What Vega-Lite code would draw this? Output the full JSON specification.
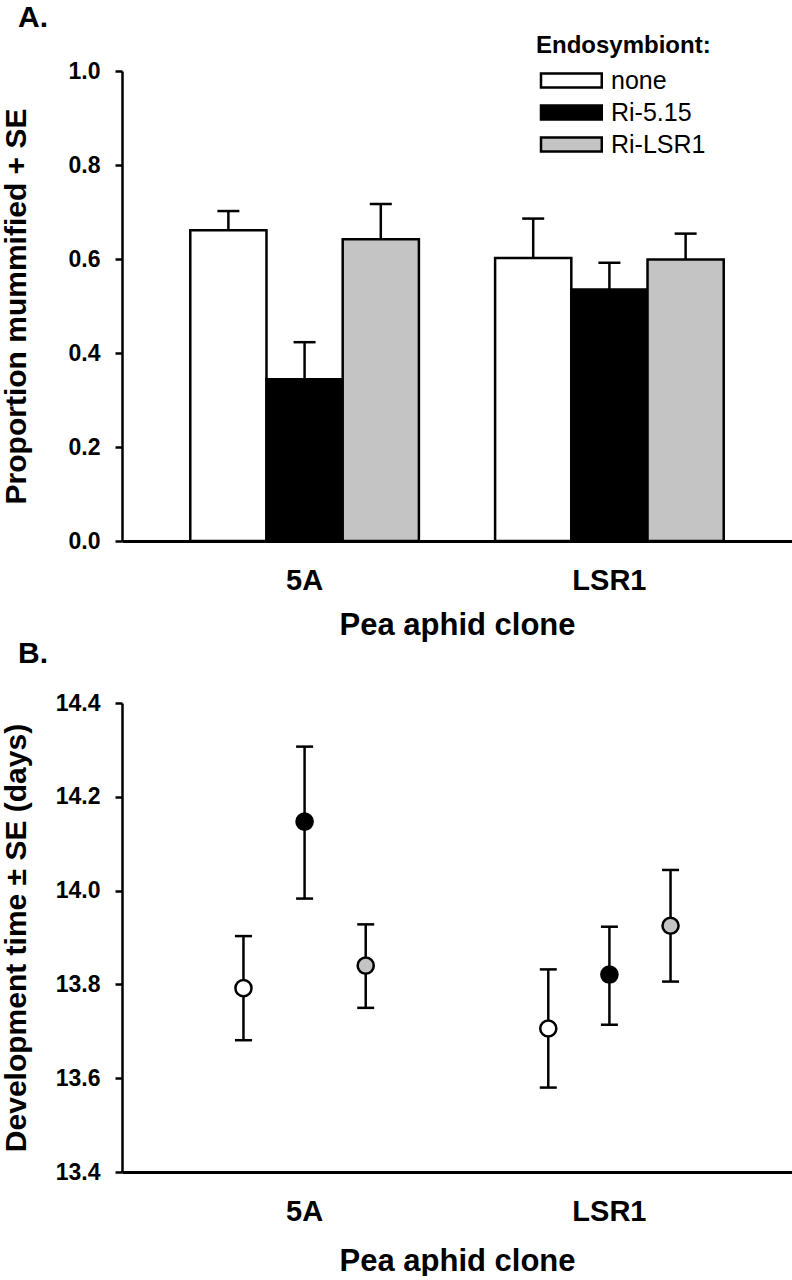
{
  "$schema": "https://vega.github.io/schema/vega-lite/v6.json",
  "description": "Parasitism (proportion mummified) and development time of pea aphid clones by endosymbiont.",
  "padding": {"left": 0, "top": 3, "right": 0, "bottom": 0},
  "background": "white",
  "datasets": {
    "mummified": [
      {"clone": "5A", "endo": "none", "mean": 0.661, "upper": 0.702},
      {"clone": "5A", "endo": "Ri-5.15", "mean": 0.344, "upper": 0.423},
      {"clone": "5A", "endo": "Ri-LSR1", "mean": 0.642, "upper": 0.717},
      {"clone": "LSR1", "endo": "none", "mean": 0.602, "upper": 0.686},
      {"clone": "LSR1", "endo": "Ri-5.15", "mean": 0.535, "upper": 0.592},
      {"clone": "LSR1", "endo": "Ri-LSR1", "mean": 0.599, "upper": 0.654}
    ],
    "devtime": [
      {"clone": "5A", "endo": "none", "mean": 13.792, "lo": 13.681, "hi": 13.903},
      {"clone": "5A", "endo": "Ri-5.15", "mean": 14.147, "lo": 13.983, "hi": 14.307},
      {"clone": "5A", "endo": "Ri-LSR1", "mean": 13.840, "lo": 13.750, "hi": 13.928},
      {"clone": "LSR1", "endo": "none", "mean": 13.706, "lo": 13.580, "hi": 13.832},
      {"clone": "LSR1", "endo": "Ri-5.15", "mean": 13.821, "lo": 13.714, "hi": 13.923},
      {"clone": "LSR1", "endo": "Ri-LSR1", "mean": 13.925, "lo": 13.806, "hi": 14.044}
    ]
  },
  "bounds": "flush",
  "spacing": 162,
  "resolve": {"scale": {"x": "independent", "y": "independent", "xOffset": "independent", "fill": "independent"}},
  "vconcat": [
    {
      "width": 670,
      "height": 470,
      "title": {"text": "A.", "anchor": "start", "frame": "group", "baseline": "alphabetic", "offset": 44, "dy": 67, "dx": -104, "fontSize": 30, "fontWeight": "bold", "color": "black"},
      "data": {"name": "mummified"},
      "encoding": {
        "x": {
          "field": "clone", "type": "nominal", "sort": ["5A", "LSR1"],
          "scale": {"paddingInner": 0.25, "paddingOuter": 0.224},
          "axis": {"title": "Pea aphid clone", "labelAngle": 0, "ticks": false, "labelPadding": 25, "titlePadding": 15, "labelFontSize": 29, "titleFontSize": 31, "domainWidth": 3}
        },
        "xOffset": {"field": "endo", "type": "nominal", "sort": ["none", "Ri-5.15", "Ri-LSR1"], "scale": {"paddingInner": 0, "paddingOuter": 0}}
      },
      "layer": [
        {
          "mark": {"type": "bar", "stroke": "black", "strokeWidth": 2.5},
          "encoding": {
            "y": {
              "field": "mean", "type": "quantitative", "title": "Proportion mummified + SE",
              "scale": {"domain": [0, 1], "nice": false},
              "axis": {"values": [0, 0.2, 0.4, 0.6, 0.8, 1.0], "format": ".1f", "tickSize": 7, "labelPadding": 15, "labelFontSize": 23, "titleFontSize": 30, "titleX": -97, "titleBaseline": "alphabetic"}
            },
            "fill": {
              "field": "endo", "type": "nominal",
              "scale": {"domain": ["none", "Ri-5.15", "Ri-LSR1"], "range": ["white", "black", "#c4c4c4"]},
              "legend": {
                "orient": "none", "legendX": 414, "legendY": -37,
                "title": "Endosymbiont:", "titleFontSize": 24, "titleFontWeight": "bold", "titleColor": "black", "titlePadding": 10,
                "labelFontSize": 25, "labelFontWeight": "normal", "labelColor": "black", "labelOffset": 50,
                "symbolType": "M-1,-0.93H7.1V0.93H-1Z", "symbolSize": 225, "symbolStrokeColor": "black", "symbolStrokeWidth": 2.5, "symbolOpacity": 1,
                "rowPadding": 6
              }
            }
          }
        },
        {
          "mark": {"type": "rule", "strokeWidth": 2.5, "color": "black"},
          "encoding": {
            "y": {"field": "mean", "type": "quantitative", "title": "Proportion mummified + SE"},
            "y2": {"field": "upper"}
          }
        },
        {
          "mark": {"type": "tick", "size": 22, "thickness": 2.5, "color": "black", "opacity": 1},
          "encoding": {
            "y": {"field": "upper", "type": "quantitative", "title": "Proportion mummified + SE"}
          }
        }
      ]
    },
    {
      "width": 670,
      "height": 469,
      "title": {"text": "B.", "anchor": "start", "frame": "group", "baseline": "alphabetic", "offset": 38, "dy": 39, "dx": -104, "fontSize": 30, "fontWeight": "bold", "color": "black"},
      "data": {"name": "devtime"},
      "encoding": {
        "x": {
          "field": "clone", "type": "nominal", "sort": ["5A", "LSR1"],
          "scale": {"paddingInner": 0.25, "paddingOuter": 0.224},
          "axis": {"title": "Pea aphid clone", "labelAngle": 0, "ticks": false, "labelPadding": 25, "titlePadding": 20, "labelFontSize": 29, "titleFontSize": 31, "domainWidth": 3}
        },
        "xOffset": {"field": "endo", "type": "nominal", "sort": ["none", "Ri-5.15", "Ri-LSR1"], "scale": {"paddingInner": 0, "paddingOuter": 0.37}}
      },
      "layer": [
        {
          "mark": {"type": "rule", "strokeWidth": 2.5, "color": "black"},
          "encoding": {
            "y": {
              "field": "lo", "type": "quantitative", "title": "Development time ± SE (days)",
              "scale": {"domain": [13.4, 14.4], "nice": false, "zero": false},
              "axis": {"values": [13.4, 13.6, 13.8, 14.0, 14.2, 14.4], "format": ".1f", "tickSize": 7, "labelPadding": 15, "labelFontSize": 23, "titleFontSize": 30, "titleX": -97, "titleBaseline": "alphabetic"}
            },
            "y2": {"field": "hi"}
          }
        },
        {
          "mark": {"type": "tick", "size": 17, "thickness": 2.5, "color": "black", "opacity": 1},
          "encoding": {
            "y": {"field": "lo", "type": "quantitative", "title": "Development time ± SE (days)"}
          }
        },
        {
          "mark": {"type": "tick", "size": 17, "thickness": 2.5, "color": "black", "opacity": 1},
          "encoding": {
            "y": {"field": "hi", "type": "quantitative", "title": "Development time ± SE (days)"}
          }
        },
        {
          "mark": {"type": "point", "filled": true, "size": 260, "stroke": "black", "strokeWidth": 2.5, "opacity": 1, "fillOpacity": 1, "strokeOpacity": 1},
          "encoding": {
            "y": {"field": "mean", "type": "quantitative", "title": "Development time ± SE (days)"},
            "fill": {
              "field": "endo", "type": "nominal",
              "scale": {"domain": ["none", "Ri-5.15", "Ri-LSR1"], "range": ["white", "black", "#c4c4c4"]},
              "legend": null
            }
          }
        }
      ]
    }
  ],
  "config": {
    "font": "Liberation Sans",
    "view": {"stroke": null},
    "axis": {
      "grid": false,
      "domainColor": "black",
      "domainWidth": 2.5,
      "tickColor": "black",
      "tickWidth": 2.5,
      "labelColor": "black",
      "titleColor": "black",
      "labelFontWeight": "bold",
      "titleFontWeight": "bold"
    }
  }
}
